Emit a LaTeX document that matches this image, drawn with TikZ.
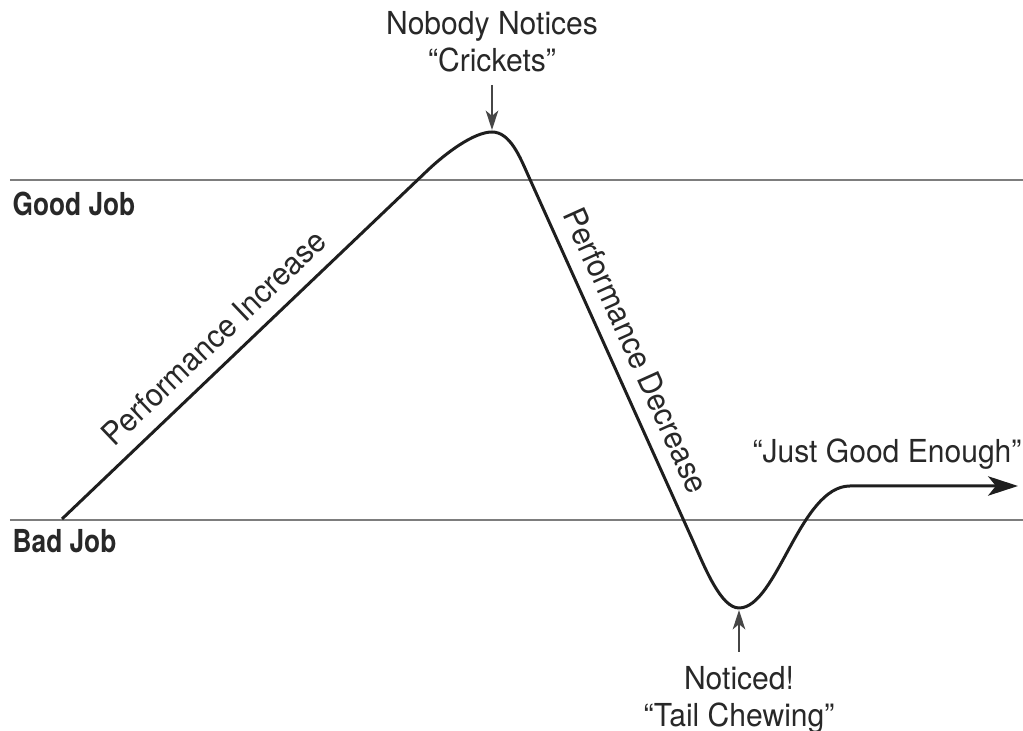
\documentclass[tikz,border=0pt]{standalone}
\usepackage{fontspec}
\setmainfont{TeX Gyre Heros}[UprightFeatures={FakeStretch=0.95},
                              BoldFeatures={FakeStretch=0.83}]
\usetikzlibrary{arrows.meta, positioning}
\usepackage{xcolor}
\definecolor{levelcol}{RGB}{125,125,125}
\definecolor{curvecol}{RGB}{30,30,30}
\definecolor{pointcol}{RGB}{70,70,70}
\definecolor{textcol}{RGB}{40,40,40}

\begin{document}
\begin{tikzpicture}[
    x = 0.01cm, y = -0.01cm,
    level/.style     = {draw=levelcol, line width=0.8pt},
    curve/.style     = {draw=curvecol, line width=0.85pt, line join=round,
                        -{Stealth[length=8.5pt,width=5.5pt,inset=2.2pt]}},
    pointer/.style   = {draw=pointcol, line width=0.45pt, shorten >=0.6pt,
                        -{Stealth[length=5.5pt,width=3.6pt,inset=1.5pt]}},
    lbl/.style       = {font=\fontsize{9}{10.5}\selectfont, text=textcol,
                        align=center},
    levellbl/.style  = {font=\fontsize{9}{10.5}\selectfont\bfseries,
                        text=textcol, inner sep=0pt, anchor=base west},
]
\useasboundingbox (0,0) rectangle (1023,731);

% ── Job levels ──────────────────────────────────────────────────
\coordinate (goodw) at (10,180);
\coordinate (goode) at (1023,180);
\coordinate (badw)  at (10,520);
\coordinate (bade)  at (1023,520);
\draw[level] (goodw) -- (goode);
\draw[level] (badw) -- (bade);

\node[levellbl] (goodlbl) at (12,216) {Good Job};
\node[levellbl] (badlbl)  at (12,553) {Bad Job};

% ── Performance curve ───────────────────────────────────────────
\coordinate (start)  at (62,519);
\coordinate (rise)   at (428,170);
\coordinate (peak)   at (492,132);
\coordinate (fall)   at (528,175);
\coordinate (drop)   at (693,541);
\coordinate (dip)    at (739,608);
\coordinate (flat)   at (850,486);
\coordinate (finish) at (1018,486);

\draw[curve] (start) -- (rise)
    .. controls (446,153) and (474,132) .. (peak)
    .. controls (510,132) and (520,157) .. (fall)
    -- (drop)
    .. controls (705,568) and (721,608) .. (dip)
    .. controls (777,608) and (800,486) .. (flat)
    -- (finish);

% ── Slope labels ────────────────────────────────────────────────
\path (start) -- (rise)
    node[lbl, sloped, above, pos=0.465, inner sep=4pt] (inc)
    {Performance Increase};
\path (fall) -- (drop)
    node[lbl, sloped, above, pos=0.51, inner sep=4pt] (dec)
    {Performance Decrease};

% ── Call-outs ───────────────────────────────────────────────────
\node[lbl, anchor=south, inner sep=3.5pt] (crickets) at (492,85)
    {Nobody Notices\\“Crickets”};
\draw[pointer] (crickets.south) -- (peak);

\node[lbl, anchor=north, inner sep=4pt] (tail) at (739,652)
    {Noticed!\\“Tail Chewing”};
\draw[pointer] (tail.north) -- (dip);

\node[lbl, anchor=base] (enough) at (887,463) {“Just Good Enough”};

\end{tikzpicture}
\end{document}
